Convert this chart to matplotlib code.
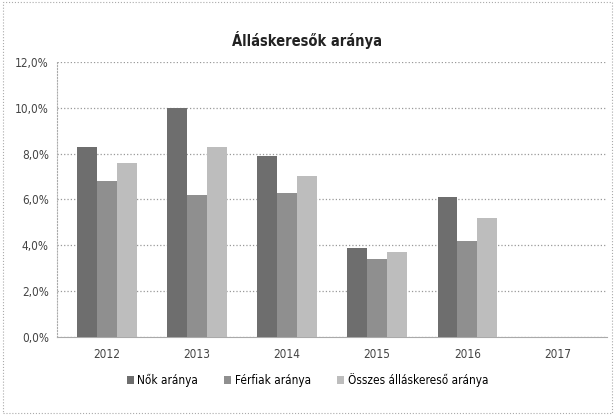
import numpy as np
import matplotlib.pyplot as plt
from matplotlib.ticker import FuncFormatter

YEARS = ["2012", "2013", "2014", "2015", "2016", "2017"]
NOK = [8.3, 10.0, 7.9, 3.9, 6.1, np.nan]
FERFIAK = [6.8, 6.2, 6.3, 3.4, 4.2, np.nan]
OSSZES = [7.6, 8.3, 7.0, 3.7, 5.2, np.nan]

SERIES = [
    ("Nők aránya", NOK, "#6e6e6e"),
    ("Férfiak aránya", FERFIAK, "#8f8f8f"),
    ("Összes álláskereső aránya", OSSZES, "#bdbdbd"),
]

plt.rcParams['font.family'] = ['DejaVu Sans']
plt.rcParams['font.stretch'] = 'condensed'

fig = plt.figure(figsize=(6.15, 4.15), dpi=100)
ax = fig.add_axes([0.093, 0.188, 0.894, 0.663])

x = np.arange(len(YEARS))
width = 0.22
for i, (label, vals, color) in enumerate(SERIES):
    ax.bar(x + (i - 1) * width, vals, width, color=color, label=label, zorder=3)

ax.set_xlim(-0.55, len(YEARS) - 0.45)
ax.set_ylim(0, 12)
ax.set_yticks(np.arange(0, 12.1, 2))
ax.yaxis.set_major_formatter(FuncFormatter(lambda v, p: f"{v:.1f}%".replace(".", ",")))
ax.set_xticks(x)
ax.set_xticklabels(YEARS)
ax.tick_params(length=0, labelsize=8.5, colors="#444444")
ax.tick_params(axis="x", pad=8)
ax.tick_params(axis="y", pad=6)
ax.grid(axis="y", linestyle=":", color="#999999", linewidth=0.9, zorder=0)

for s in ["top", "right"]:
    ax.spines[s].set_visible(False)
ax.spines["left"].set_linestyle(":")
ax.spines["left"].set_color("#aaaaaa")
ax.spines["bottom"].set_color("#aaaaaa")

fig.text(0.5, 0.904, "Álláskeresők aránya", ha="center", va="center",
         fontsize=10.5, fontweight="bold", color="#222222")

fig.legend(loc="center", bbox_to_anchor=(0.5, 0.084), ncol=3, frameon=False,
           fontsize=8.5, handlelength=0.6, handleheight=0.6, columnspacing=2.2,
           handletextpad=0.3)

border = plt.Rectangle((0.005, 0.005), 0.99, 0.99, transform=fig.transFigure,
                       fill=False, linestyle=":", edgecolor="#aaaaaa", linewidth=0.8)
fig.add_artist(border)

fig.savefig("out.png", dpi=100)
